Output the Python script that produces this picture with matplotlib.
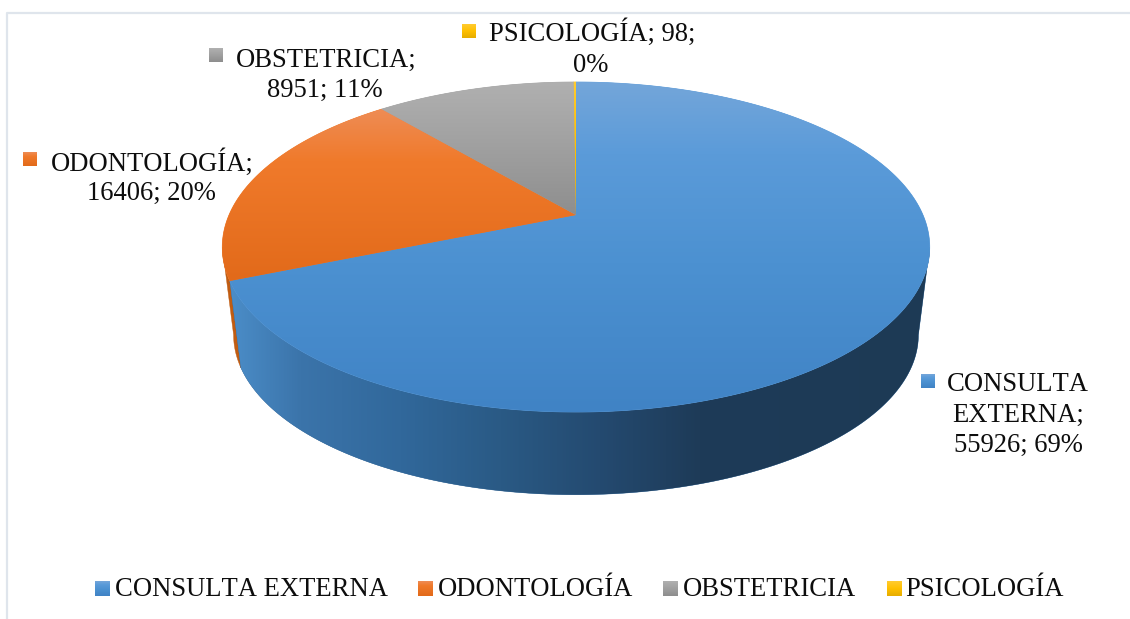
import numpy as np
import matplotlib
matplotlib.use("Agg")
import matplotlib.pyplot as plt
from matplotlib.colors import LinearSegmentedColormap, to_rgb
from matplotlib.patches import Polygon

categories = ["CONSULTA EXTERNA", "ODONTOLOGÍA", "OBSTETRICIA", "PSICOLOGÍA"]
values = [55926, 16406, 8951, 98]
percent_labels = ["69%", "20%", "11%", "0%"]

top_colors = [[(0, "#74a6da"), (0.22, "#5b9bd9"), (0.55, "#4c91d1"), (1, "#4083c5")],
              [(0, "#ee8c55"), (0.3, "#f07a2b"), (1, "#e26a1a")],
              [(0, "#b0b0b0"), (0.4, "#a3a3a3"), (1, "#8e8e8e")],
              [(0, "#ffcb30"), (0.5, "#ffc000"), (1, "#e6ad00")]]
wall_colors = ["#2f6496", "#c05c12", "#6e6e6e", "#a88000"]
blue_wall = [(225, "#4c8fca"), (300, "#3b74aa"), (400, "#31689b"),
             (500, "#2a5a85"), (600, "#244a70"), (700, "#1e3b58"), (940, "#1d3a55")]

plt.rcParams["font.family"] = ["Liberation Serif", "DejaVu Serif"]
plt.rcParams["text.kerning_factor"] = 10

# perspective projection of the pie disc
APEX_X, APEX_Y, W, H, K = 576.0, 215.0, 347.0, 158.8, 0.194
DROP, SHRINK = 304.0, 0.968


def project(theta, bottom=False):
    X, Y = np.sin(theta), np.cos(theta)
    d = 1 + K * Y
    x, y = W * X / d, -H * Y / d
    if bottom:
        return APEX_X + SHRINK * x, DROP + SHRINK * y
    return APEX_X + x, APEX_Y + y


fig = plt.figure(figsize=(11.3, 6.19), dpi=100)
ax = fig.add_axes([0, 0, 1, 1])
ax.axis("off")

# outer frame
ax.plot([7, 7, 1130], [619, 13, 13], color="#dfe5ec", lw=1.6, solid_capstyle="butt")

fractions = np.array(values, dtype=float) / np.sum(values)
edges = np.concatenate([[0], np.cumsum(fractions)]) * 2 * np.pi


def cmap_of(i):
    return LinearSegmentedColormap.from_list(f"g{i}", top_colors[i])


# walls: only the front-facing part of each slice, bounded by the silhouette tangents
tangent = np.arccos(-K)
wall_cmap = LinearSegmentedColormap.from_list(
    "wall", [((x - blue_wall[0][0]) / (blue_wall[-1][0] - blue_wall[0][0]), to_rgb(c)) for x, c in blue_wall])
for i in (1, 0):
    a0 = max(edges[i], tangent)
    a1 = min(edges[i + 1], 2 * np.pi - tangent)
    th = np.linspace(a0, a1, 300)
    xa, ya = project(th)
    xb, yb = project(th[::-1], bottom=True)
    pts = np.c_[np.r_[xa, xb], np.r_[ya, yb]]
    poly = Polygon(pts, closed=True, fc=wall_colors[i], ec=wall_colors[i], lw=0.3, zorder=2)
    ax.add_patch(poly)
    if i == 0:
        g = np.linspace(0, 1, 512).reshape(1, -1)
        im = ax.imshow(g, cmap=wall_cmap, aspect="auto", zorder=2.5,
                       extent=[blue_wall[0][0], blue_wall[-1][0], 619, 0], interpolation="bilinear")
        im.set_clip_path(poly)

# top faces with vertical gradient
for i in range(4):
    th = np.linspace(edges[i], edges[i + 1], max(3, int(np.degrees(edges[i + 1] - edges[i])) * 2))
    xs, ys = project(th)
    xs, ys = np.r_[APEX_X, xs], np.r_[APEX_Y, ys]
    mid = to_rgb(top_colors[i][1][1])
    poly = Polygon(np.c_[xs, ys], closed=True, fc=mid, ec=mid, lw=0.5, zorder=3)
    ax.add_patch(poly)
    grad = np.linspace(0, 1, 256).reshape(-1, 1)
    im = ax.imshow(grad, cmap=cmap_of(i), aspect="auto", zorder=4,
                   extent=[xs.min() - 1, xs.max() + 1, ys.max(), ys.min()], interpolation="bilinear")
    im.set_clip_path(poly)


def swatch(x, y, size, i):
    g = np.linspace(0, 1, 32).reshape(-1, 1)
    ax.imshow(g, cmap=cmap_of(i), aspect="auto", zorder=5,
              extent=[x, x + size, y + size, y], interpolation="bilinear")


FS = 19.15
def label(x, y, s, ha="center"):
    ax.text(x, y, s, fontsize=FS, ha=ha, va="baseline", color="#0d0d0d", zorder=6)


# data labels: category; value; percent wrapped as in the reference
swatch(921, 374, 14, 0)
label(947, 391, "CONSULTA", "left")
label(1018, 422, "EXTERNA;")
label(1018, 452, f"{values[0]}; {percent_labels[0]}")

swatch(23, 152, 14, 1)
label(51, 171, f"{categories[1]};", "left")
label(151, 200, f"{values[1]}; {percent_labels[1]}")

swatch(209, 48, 14, 2)
label(236, 67, f"{categories[2]};", "left")
label(325, 97, f"{values[2]}; {percent_labels[2]}")

swatch(462, 24, 14, 3)
label(489, 41, f"{categories[3]}; {values[3]};", "left")
label(591, 72, percent_labels[3])

# legend
legend_swatch_x = [95, 418, 663, 887]
legend_text_x = [115, 438, 683, 905]
for i, name in enumerate(categories):
    swatch(legend_swatch_x[i], 581, 15, i)
    label(legend_text_x[i], 596, name, "left")

ax.set_xlim(0, 1130)
ax.set_ylim(619, 0)
fig.savefig("out.png", dpi=100)
